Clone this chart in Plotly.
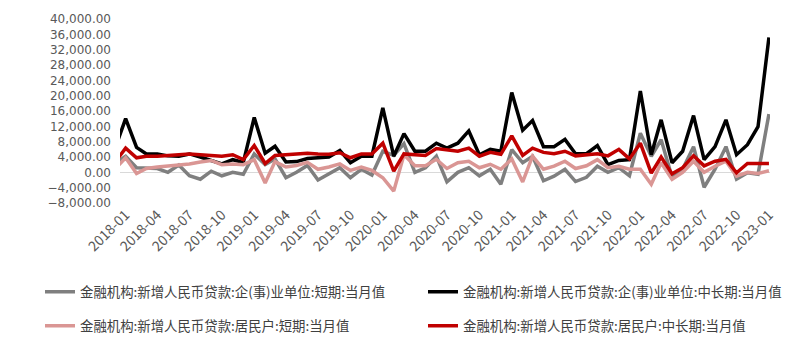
import plotly.graph_objects as go

# months: 2017-12 (partly clipped at left edge) through 2023-01
months = ["2017-12"] + [f"{y}-{m:02d}" for y in range(2018, 2023) for m in range(1, 13)] + ["2023-01"]

corp_short = [2300, 4200, 1200, 1000, 1000, 0, 1900, -900, -1800, 300, -900, 0, -500,
              4800, 2000, 3500, -1400, 0, 1800, -2000, -500, 1200, -1400, 800, -700,
              5500, 4400, 7500, 0, 1200, 4200, -2500, 0, 1200, -900, 800, -3100,
              5900, 2500, 4200, -2200, -1000, 800, -2400, -1300, 1600, 0, 1200, -900,
              10200, 4200, 8500, -1300, 800, 6700, -3900, 800, 6700, -1800, -100, -500,
              15200]
corp_mlt = [6000, 14000, 6500, 4800, 4800, 4300, 4200, 4800, 4000, 3000, 2200, 3300, 2600,
            14300, 5000, 6800, 2700, 2800, 3600, 3800, 4000, 5700, 2500, 4200, 4200,
            16800, 4200, 10100, 5500, 5500, 7600, 6300, 7600, 10800, 4600, 6000, 5500,
            20800, 11000, 13500, 6700, 6700, 8600, 4850, 4850, 7000, 2000, 3100, 3300,
            21200, 4600, 13700, 2500, 5500, 14800, 3300, 6700, 13700, 4600, 7200, 11900,
            35200]
hh_short = [800, 3800, -300, 1000, 1400, 1600, 1900, 2200, 2700, 3100, 2000, 2200, 2000,
            3300, -2800, 2800, 1400, 1800, 2600, 800, 1400, 2200, 500, 1400, 500,
            -1400, -4900, 4600, 1700, 1700, 3400, 1000, 2500, 2900, 1200, 2100, 800,
            3500, -2500, 4200, 800, 1600, 2900, 1000, 1700, 3300, 1200, 1600, 800,
            800, -3100, 2500, -1800, 0, 2900, 0, 1600, 2900, -1000, 0, -300,
            400]
hh_mlt = [2500, 6300, 3800, 4200, 4200, 4300, 4600, 4800, 4600, 4600, 4200, 4600, 3300,
          7000, 2300, 4400, 4600, 4800, 5000, 4800, 4700, 5100, 3800, 4800, 4800,
          7600, 300, 4800, 4600, 4400, 6200, 5900, 5500, 6300, 4200, 5200, 4700,
          9500, 4400, 6300, 5200, 4850, 5500, 4300, 4600, 4850, 4300, 6000, 3500,
          7600, -200, 4000, -400, 1200, 4300, 1700, 2900, 3400, -100, 2300, 2300,
          2300]

names = [
    "金融机构:新增人民币贷款:企(事)业单位:短期:当月值",
    "金融机构:新增人民币贷款:企(事)业单位:中长期:当月值",
    "金融机构:新增人民币贷款:居民户:短期:当月值",
    "金融机构:新增人民币贷款:居民户:中长期:当月值",
]
series = [corp_short, corp_mlt, hh_short, hh_mlt]
colors = ["#7F7F7F", "#000000", "#DA9694", "#C00000"]
legend_ids = ["legend", "legend2", "legend3", "legend4"]
# legend placement (container px): left x, row centre y
legend_pos = [(40, 292), (423, 292), (40, 326), (423, 326)]

x_dates = [m + "-01" for m in months]

fig = go.Figure()
for name, vals, col, lg in zip(names, series, colors, legend_ids):
    fig.add_trace(go.Scatter(x=x_dates, y=vals, mode="lines", name=name,
                             line=dict(color=col, width=3.5), legend=lg))

cjk_font = "Microsoft YaHei, Noto Sans CJK SC, sans-serif"
legend_layout = {}
for lg, (px, py) in zip(legend_ids, legend_pos):
    legend_layout[lg] = dict(orientation="h", xref="container", yref="container",
                             x=px / 800, y=1 - py / 352,
                             xanchor="left", yanchor="middle",
                             font=dict(family=cjk_font, size=13.4, color="#404040"),
                             bgcolor="rgba(0,0,0,0)", itemwidth=30)

fig.update_layout(
    width=800, height=352,
    margin=dict(l=120, r=30, t=16, b=149),
    paper_bgcolor="white", plot_bgcolor="white",
    font=dict(family=cjk_font, size=13, color="#595959"),
    showlegend=True,
    **legend_layout,
    xaxis=dict(type="date", range=["2017-12-16", "2023-01-04"],
               tickformat="%Y-%m", dtick="M3", tick0="2018-01-01",
               tickangle=-45, showgrid=False, showline=False, zeroline=False,
               ticks="", tickfont=dict(family=cjk_font, size=14, color="#595959")),
    yaxis=dict(range=[-8000, 40000], dtick=4000, tick0=0, tickformat=",.2f",
               showgrid=False, showline=False, zeroline=True,
               zerolinecolor="#D9D9D9", zerolinewidth=1,
               ticks="", ticklabelstandoff=8,
               tickfont=dict(family="DejaVu Sans, sans-serif", size=12, color="#595959")),
)

fig.write_html("out.html")
